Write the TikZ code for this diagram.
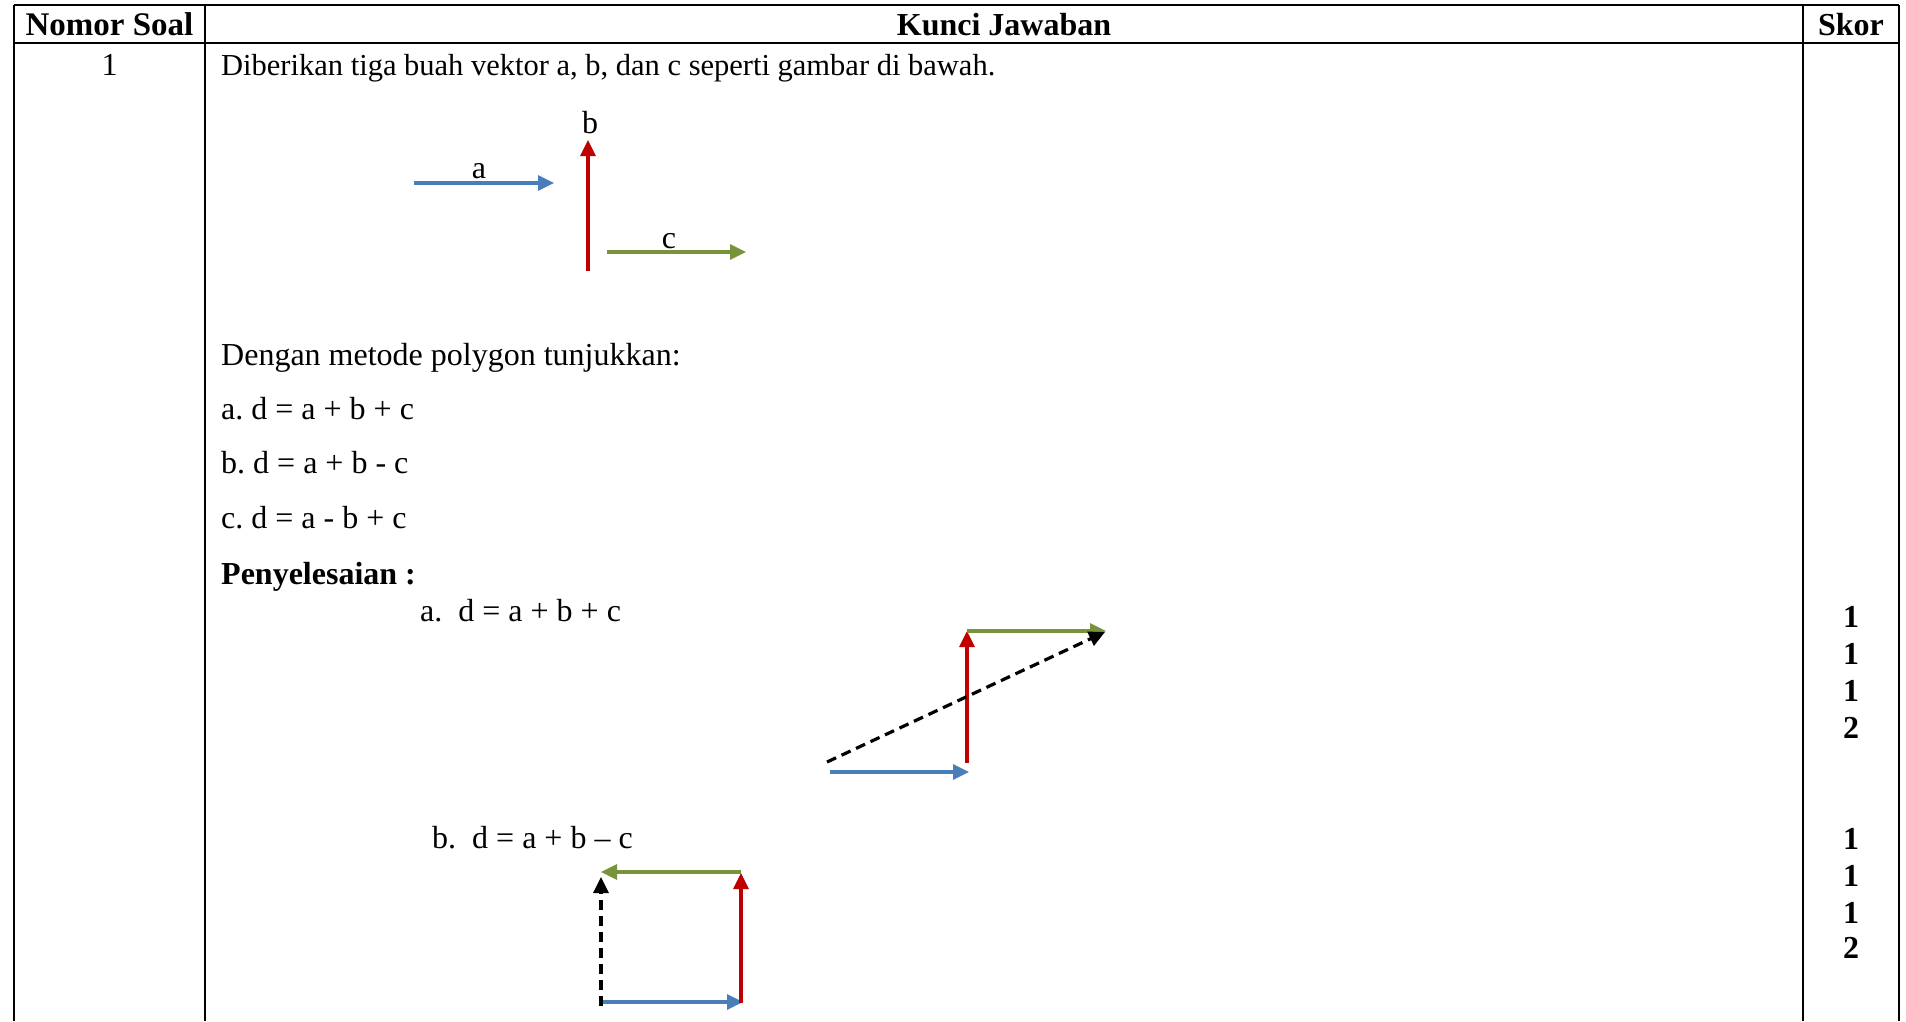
\documentclass[tikz,border=0pt]{standalone}
\usepackage{fontspec}
\setmainfont{Liberation Serif}
\usetikzlibrary{arrows.meta}
\definecolor{vblue}{HTML}{4A7EBB}
\definecolor{vred}{HTML}{C00000}
\definecolor{vgreen}{HTML}{77933C}
\frenchspacing
\tikzset{
  txt/.style={anchor=base west, inner sep=0pt, font=\fontsize{32}{38}\selectfont},
  ctxt/.style={anchor=base, inner sep=0pt, font=\fontsize{32}{38}\selectfont},
  btxt/.style={anchor=base, inner sep=0pt, font=\fontsize{32}{38}\selectfont\bfseries},
  grid/.style={line width=2.6pt, black},
  vec/.style={line width=3.2pt, -{Triangle[length=16pt,width=15pt]}},
  res/.style={line width=3.2pt, black, dash pattern=on 10pt off 6pt, -{Triangle[length=16pt,width=15pt]}}
}
\begin{document}
\begin{tikzpicture}[x=1pt,y=-1pt]
\useasboundingbox (0,0) rectangle (1906,1021);
% table
\coordinate (tl) at (14,5);
\coordinate (tr) at (1899,5);
\coordinate (hl) at (14,43);
\coordinate (hr) at (1899,43);
\coordinate (v1t) at (205,5);
\coordinate (v2t) at (1803,5);
\coordinate (bl) at (14,1021);
\coordinate (v1b) at (205,1021);
\coordinate (v2b) at (1803,1021);
\coordinate (br) at (1899,1021);
\draw[grid] (tl) -- (tr);
\draw[grid] (hl) -- (hr);
\draw[grid] (tl) -- (bl);
\draw[grid] (v1t) -- (v1b);
\draw[grid] (v2t) -- (v2b);
\draw[grid] (tr) -- (br);
% header
\node[btxt, font=\fontsize{33}{38}\selectfont\bfseries] (h1) at (109.5,35) {Nomor Soal};
\node[btxt] (h2) at (1004,35) {Kunci Jawaban};
\node[btxt] (h3) at (1851,35) {Skor};
\node[ctxt] (num) at (109.5,75) {1};
% question
\node[txt, font=\fontsize{30.5}{36}\selectfont] (q) at (221,75) {Diberikan tiga buah vektor a, b, dan c seperti gambar di bawah.};
% given vectors
\coordinate (a0) at (414,183);
\coordinate (a1) at (554,183);
\coordinate (b0) at (588,271);
\coordinate (b1) at (588,140);
\coordinate (c0) at (607,252);
\coordinate (c1) at (746,252);
\draw[vec, vblue] (a0) -- (a1);
\draw[vec, vred] (b0) -- (b1);
\draw[vec, vgreen] (c0) -- (c1);
\node[ctxt] (la) at (479,178) {a};
\node[ctxt] (lb) at (590,133) {b};
\node[ctxt] (lc) at (669,248) {c};
% tasks
\node[txt] (t0) at (221,365) {Dengan metode polygon tunjukkan:};
\node[txt] (t1) at (221,419) {a. d = a + b + c};
\node[txt] (t2) at (221,473) {b. d = a + b - c};
\node[txt] (t3) at (221,528) {c. d = a - b + c};
\node[txt, font=\fontsize{32}{38}\selectfont\bfseries] (t4) at (221,584) {Penyelesaian :};
\node[txt] (sa) at (420,621) {a.\ \ d = a + b + c};
% solution a
\coordinate (pa0) at (830,772);
\coordinate (pa1) at (969,772);
\coordinate (pb0) at (967,763);
\coordinate (pb1) at (967,631);
\coordinate (pc0) at (967,631);
\coordinate (pc1) at (1106,631);
\coordinate (pd0) at (827,762);
\coordinate (pd1) at (1105,632);
\draw[vec, vblue] (pa0) -- (pa1);
\draw[vec, vred] (pb0) -- (pb1);
\draw[vec, vgreen] (pc0) -- (pc1);
\draw[res] (pd0) -- (pd1);
% solution b
\node[txt] (sb) at (432,848) {b.\ \ d = a + b – c};
\coordinate (qa0) at (603,1002);
\coordinate (qa1) at (743,1002);
\coordinate (qb0) at (741,1003);
\coordinate (qb1) at (741,873);
\coordinate (qc0) at (741,872);
\coordinate (qc1) at (601,872);
\coordinate (qd0) at (601,1006);
\coordinate (qd1) at (601,877);
\draw[vec, vblue] (qa0) -- (qa1);
\draw[vec, vred] (qb0) -- (qb1);
\draw[vec, vgreen] (qc0) -- (qc1);
\draw[res] (qd0) -- (qd1);
% scores
\node[btxt] (s1) at (1851,627) {1};
\node[btxt] (s2) at (1851,664) {1};
\node[btxt] (s3) at (1851,701) {1};
\node[btxt] (s4) at (1851,738) {2};
\node[btxt] (s5) at (1851,849) {1};
\node[btxt] (s6) at (1851,886) {1};
\node[btxt] (s7) at (1851,923) {1};
\node[btxt] (s8) at (1851,958) {2};
\end{tikzpicture}
\end{document}
